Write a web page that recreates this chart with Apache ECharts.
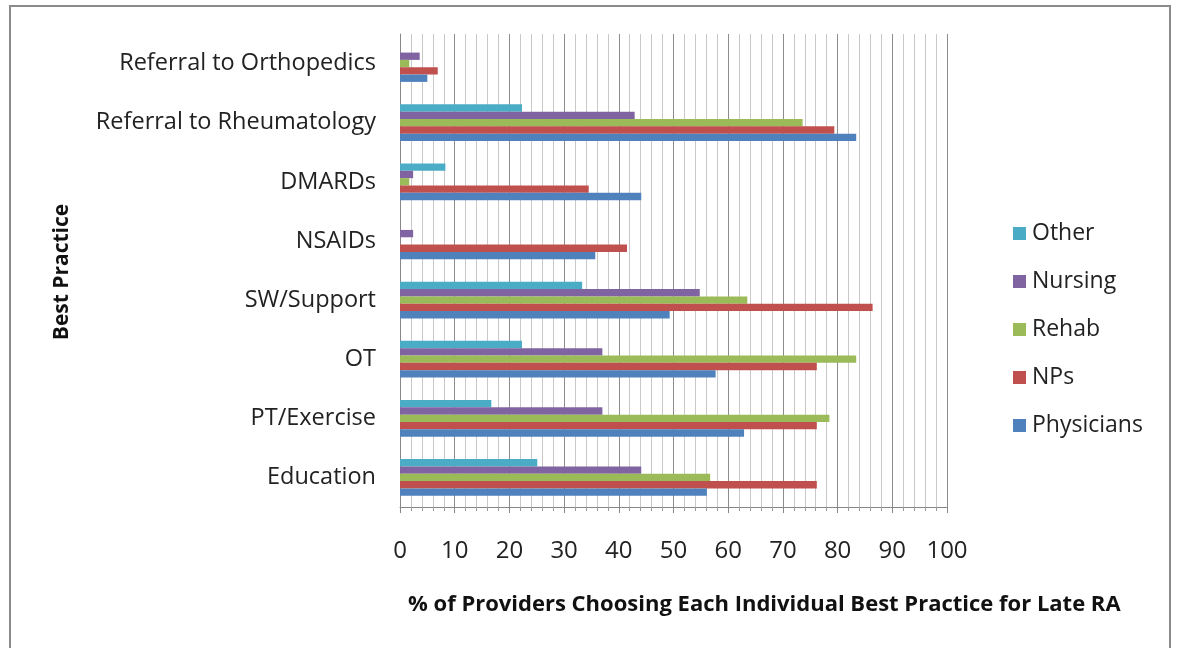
<!DOCTYPE html>
<html>
<head>
<meta charset="utf-8">
<script src="https://cdn.jsdelivr.net/npm/echarts@6/dist/echarts.min.js"></script>
<style>html,body{margin:0;padding:0;background:#fff}#c{width:1177px;height:648px}</style>
</head>
<body>
<div id="c"></div>
<script>
const categories = ['Education', 'PT/Exercise', 'OT', 'SW/Support', 'NSAIDs', 'DMARDs', 'Referral to Rheumatology', 'Referral to Orthopedics'];
const physicians = [56.1, 62.9, 57.7, 49.3, 35.7, 44.1, 83.4, 5.0];
const nps        = [76.2, 76.2, 76.2, 86.4, 41.5, 34.5, 79.4, 6.9];
const rehab      = [56.7, 78.5, 83.4, 63.5, 0, 1.7, 73.6, 1.7];
const nursing    = [44.1, 37.0, 37.0, 54.8, 2.4, 2.4, 42.9, 3.6];
const other      = [25.1, 16.7, 22.3, 33.3, 0, 8.3, 22.3, 0];
const xTicks = [0, 10, 20, 30, 40, 50, 60, 70, 80, 90, 100];

const FONT = 'Open Sans';
const chart = echarts.init(document.getElementById('c'));
const mk = (name, data, color) => ({
  name, type: 'bar', data, itemStyle: { color }, barGap: '0%', barCategoryGap: '38%'
});
chart.setOption({
  animation: false,
  textStyle: { fontFamily: FONT },
  grid: { left: 400, right: 230, top: 34, bottom: 141, containLabel: false },
  legend: {
    orient: 'vertical', left: 1008, top: 217, itemGap: 25, itemWidth: 13, itemHeight: 13,
    icon: 'rect', data: ['Other', 'Nursing', 'Rehab', 'NPs', 'Physicians'],
    textStyle: { fontFamily: FONT, fontSize: 23, color: '#222', padding: [0, 0, 0, 1] }
  },
  xAxis: {
    type: 'value', min: xTicks[0], max: xTicks[xTicks.length - 1], interval: 10,
    axisLine: { show: true, lineStyle: { color: '#888', width: 1 } },
    axisTick: { show: true, length: 6, lineStyle: { color: '#888' } },
    minorTick: { show: true, splitNumber: 5, length: 4, lineStyle: { color: '#999' } },
    splitLine: { show: true, lineStyle: { color: '#8c8c8c', width: 1 } },
    minorSplitLine: { show: true, lineStyle: { color: '#c8c8c8', width: 1 } },
    axisLabel: { fontFamily: FONT, fontSize: 24, color: '#222', margin: 32 }
  },
  yAxis: {
    type: 'category', data: categories,
    axisLine: { show: true, lineStyle: { color: '#888' } },
    axisTick: { show: false },
    axisLabel: { fontFamily: FONT, fontSize: 23.5, color: '#222', margin: 24 }
  },
  series: [
    mk('Other', other, '#4BACC6'),
    mk('Nursing', nursing, '#8064A2'),
    mk('Rehab', rehab, '#9BBB59'),
    mk('NPs', nps, '#C0504D'),
    mk('Physicians', physicians, '#4F81BD')
  ],
  graphic: [
    { type: 'rect', shape: { x: 10, y: 6, width: 1160, height: 700 }, style: { fill: 'none', stroke: '#8a8a8a', lineWidth: 2 }, silent: true },
    { type: 'text', left: 408, top: 594, style: { text: '% of Providers Choosing Each Individual Best Practice for Late RA', fontFamily: FONT, fontSize: 22, fontWeight: 'bold', fill: '#111' } },
    { type: 'text', x: 62, y: 272, rotation: Math.PI / 2, style: { text: 'Best Practice', fontFamily: FONT, fontSize: 21, fontWeight: 'bold', fill: '#111', align: 'center', verticalAlign: 'middle' } }
  ]
});
</script>
</body>
</html>
